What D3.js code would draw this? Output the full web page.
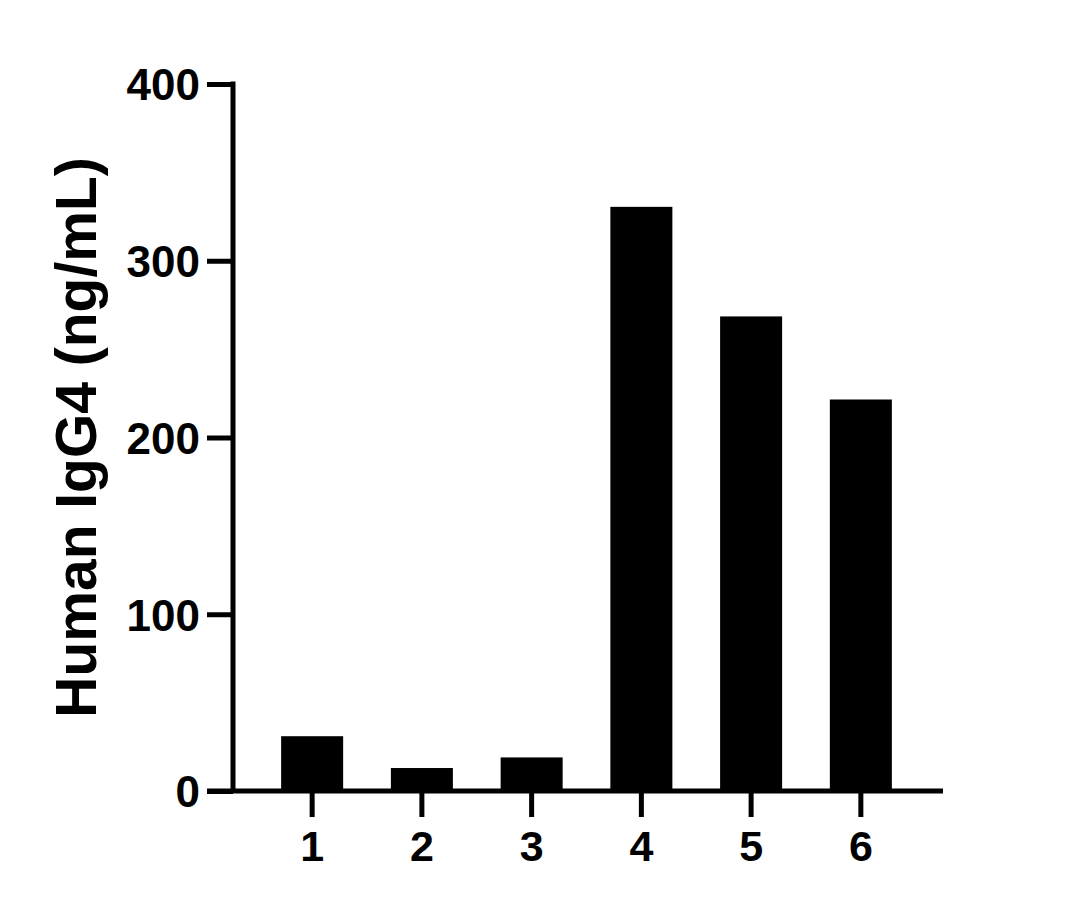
<!DOCTYPE html>
<meta charset="utf-8">
<head>
  <title>Human IgG4</title>
  <script src="https://d3js.org/d3.v7.min.js"></script>
  <style>
    body { margin: 0; background: #fff; }
    text { font-family: "Liberation Sans", Arial, sans-serif; font-weight: bold; fill: #000; }
    .axis path, .axis line { stroke: #000; stroke-width: 5px; }
  </style>
</head>
<body>
  <svg id="chart" width="1079" height="908"></svg>
  <script>
    var categories = ["1", "2", "3", "4", "5", "6"];
    var values = [31, 13, 19, 330.5, 268.5, 221.5];
    var yTicks = [0, 100, 200, 300, 400];
    var yLabel = "Human IgG4 (ng/mL)";

    var svg = d3.select("#chart");
    var plotLeft = 233, plotRight = 943, plotTop = 84, plotBottom = 791;
    var tick = 26;

    var y = d3.scaleLinear().domain([0, 400]).range([plotBottom, plotTop]);
    var x = d3.scaleBand().domain(categories).range([257, 916]).paddingInner(0.435).paddingOuter(0.22);

    // bars
    svg.append("g")
      .selectAll("rect")
      .data(values)
      .enter().append("rect")
        .attr("x", function(d, i) { return x(categories[i]); })
        .attr("y", function(d) { return y(d); })
        .attr("width", x.bandwidth())
        .attr("height", function(d) { return y(0) - y(d); })
        .attr("fill", "#000");

    // y axis
    var yAxis = svg.append("g")
      .attr("class", "axis")
      .attr("transform", "translate(" + plotLeft + ",0)")
      .call(d3.axisLeft(y).tickValues(yTicks).tickSize(tick).tickSizeOuter(0).tickPadding(7));
    yAxis.select(".domain").attr("d", "M0," + (plotTop - 2.5) + "V" + plotBottom);
    yAxis.selectAll("text").style("font-size", "44px").attr("dy", "0.36em");

    // x axis
    var xAxis = svg.append("g")
      .attr("class", "axis")
      .attr("transform", "translate(0," + plotBottom + ")")
      .call(d3.axisBottom(x).tickSize(tick).tickSizeOuter(0).tickPadding(13));
    xAxis.select(".domain").attr("d", "M" + (plotLeft - tick) + ",0H" + plotRight);
    xAxis.selectAll("text").style("font-size", "43px");

    // y label
    svg.append("text")
      .attr("transform", "translate(96," + ((plotTop + plotBottom) / 2) + ") rotate(-90)")
      .attr("text-anchor", "middle")
      .style("font-size", "57px")
      .text(yLabel);
  </script>
</body>
